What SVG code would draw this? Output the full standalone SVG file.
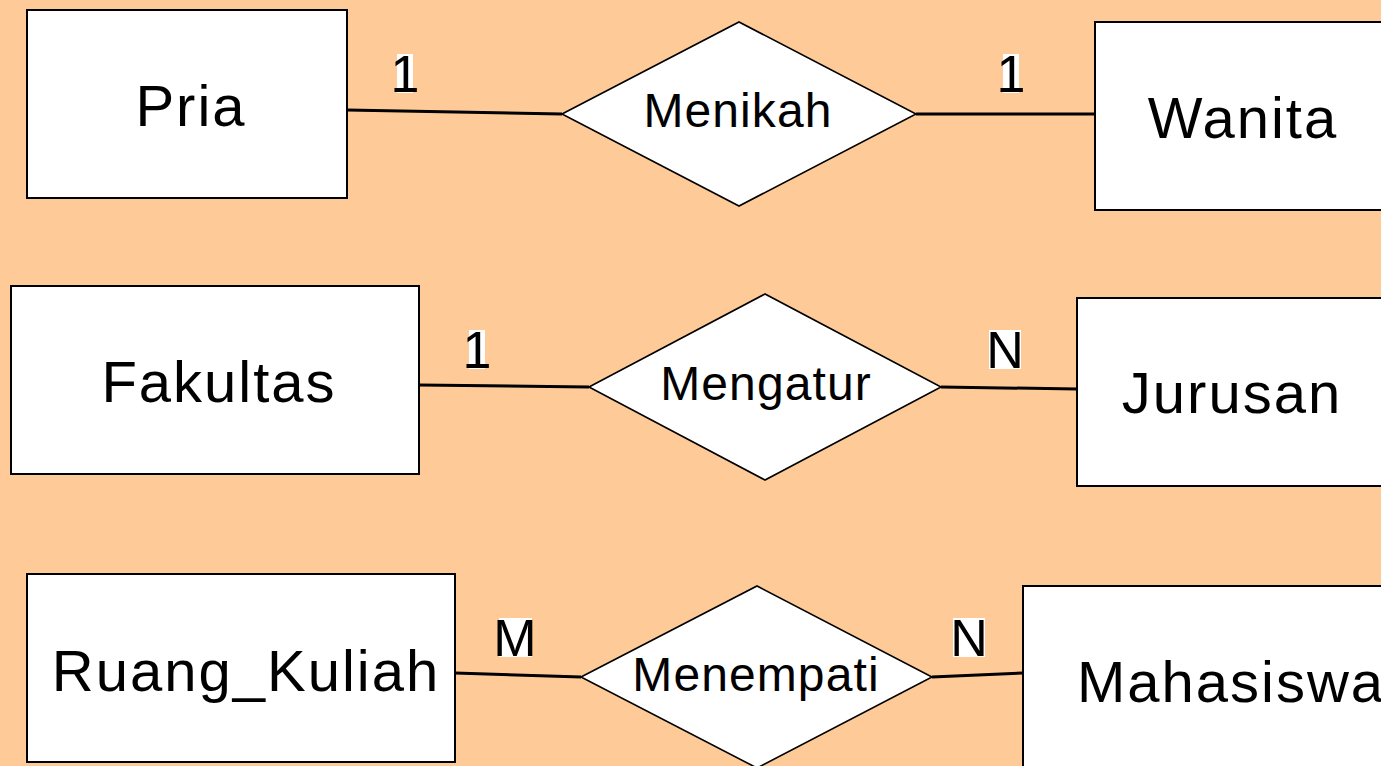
<svg xmlns="http://www.w3.org/2000/svg" width="1381" height="766" viewBox="0 0 1381 766">
  <style>
    .entity rect { fill: #ffffff; stroke: #000000; stroke-width: 2; }
    .entity text { font-family: "Liberation Sans", Arial, sans-serif; font-size: 58px; letter-spacing: 2px; fill: #000000; text-anchor: middle; }
    .rel polygon { fill: #ffffff; stroke: #000000; stroke-width: 1.6; }
    .rel text { font-family: "Liberation Sans", Arial, sans-serif; font-size: 48px; letter-spacing: 1.1px; fill: #000000; text-anchor: middle; }
    .links line { stroke: #000000; stroke-width: 3; }
    .card rect { fill: #ffffff; }
    .card text { font-family: "Liberation Sans", Arial, sans-serif; font-size: 52px; fill: #000000; text-anchor: middle; }
  </style>

  <rect x="0" y="0" width="1381" height="766" fill="#fecb98"/>

  <!-- connectors -->
  <g id="connectors" class="links">
    <line x1="347" y1="110" x2="562" y2="114"/>
    <line x1="916" y1="114" x2="1095" y2="114"/>
    <line x1="419" y1="385" x2="589" y2="387"/>
    <line x1="941" y1="387" x2="1077" y2="389"/>
    <line x1="455" y1="673" x2="581" y2="677"/>
    <line x1="932" y1="677" x2="1023" y2="673"/>
  </g>

  <!-- entities -->
  <g id="pria" class="entity">
    <rect x="27" y="10" width="320" height="188"/>
    <text x="191" y="126">Pria</text>
  </g>
  <g id="wanita" class="entity">
    <rect x="1095" y="22" width="300" height="188"/>
    <text x="1243" y="138">Wanita</text>
  </g>
  <g id="fakultas" class="entity">
    <rect x="11" y="286" width="408" height="188"/>
    <text x="219" y="402">Fakultas</text>
  </g>
  <g id="jurusan" class="entity">
    <rect x="1077" y="298" width="320" height="188"/>
    <text x="1232" y="413">Jurusan</text>
  </g>
  <g id="ruang_kuliah" class="entity">
    <rect x="27" y="574" width="428" height="188"/>
    <text x="246" y="691">Ruang_Kuliah</text>
  </g>
  <g id="mahasiswa" class="entity">
    <rect x="1023" y="586" width="380" height="200"/>
    <text x="1077" y="702" style="text-anchor: start">Mahasiswa</text>
  </g>

  <!-- relationships -->
  <g id="menikah" class="rel">
    <polygon points="562,114 739,22 916,114 739,206"/>
    <text x="738" y="127">Menikah</text>
  </g>
  <g id="mengatur" class="rel">
    <polygon points="589,387 765,294 941,387 765,480"/>
    <text x="766" y="400">Mengatur</text>
  </g>
  <g id="menempati" class="rel">
    <polygon points="581,677 757,586 932,677 757,768"/>
    <text x="756" y="691">Menempati</text>
  </g>

  <!-- cardinalities -->
  <g id="card-pria" class="card">
    <rect x="397" y="54" width="16" height="39"/>
    <text x="405" y="92">1</text>
  </g>
  <g id="card-wanita" class="card">
    <rect x="1003" y="54" width="16" height="39"/>
    <text x="1011" y="92">1</text>
  </g>
  <g id="card-fakultas" class="card">
    <rect x="469" y="330" width="16" height="39"/>
    <text x="477" y="368">1</text>
  </g>
  <g id="card-jurusan" class="card">
    <rect x="989" y="330" width="32" height="39"/>
    <text x="1005" y="368">N</text>
  </g>
  <g id="card-ruang" class="card">
    <rect x="499" y="618" width="33" height="39"/>
    <text x="515" y="656">M</text>
  </g>
  <g id="card-mahasiswa" class="card">
    <rect x="953" y="618" width="32" height="39"/>
    <text x="969" y="656">N</text>
  </g>
</svg>
